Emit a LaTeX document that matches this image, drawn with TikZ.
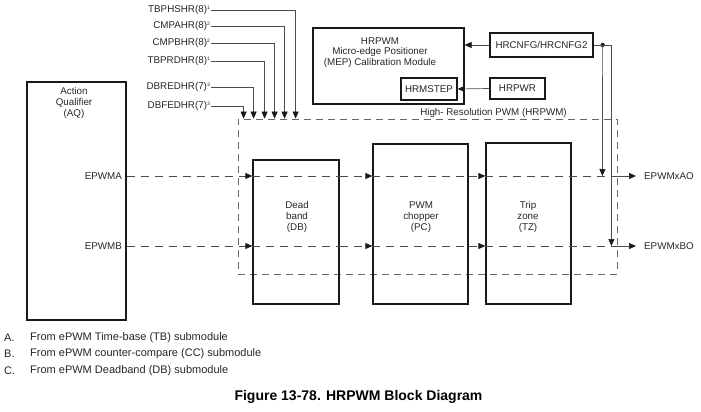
\documentclass[tikz,border=0pt]{standalone}
\usepackage{fontspec}
\setmainfont{Liberation Sans}
\usetikzlibrary{arrows.meta}
\newcommand\regnote[1]{\raisebox{3.5pt}{\fontsize{5}{5}\selectfont #1}}

\begin{document}
\begin{tikzpicture}[
        x=1pt, y=-1pt,
        >={Triangle[length=7pt, width=6pt, sep=0pt, color=black!90]},
        every node/.style={font=\fontsize{9.8}{11}\selectfont, inner sep=1pt, text=black!85},
        blok/.style={draw=black!90, line width=1.3pt, inner sep=0pt},
        hrbox/.style={draw=black!60, line width=0.8pt, dash pattern=on 7pt off 5pt, inner sep=0pt},
        sig/.style={draw=black!70, line width=0.8pt, dash pattern=on 8pt off 6pt},
        wire/.style={draw=black!70, line width=0.7pt},
        note/.style={font=\fontsize{11}{13}\selectfont, anchor=west}
    ]
        \useasboundingbox (0,0) rectangle (701,412);

        % Các khối chính
        \node[blok, minimum width=99pt, minimum height=238pt] (AQ) at (76.5,201) {};
        \node[align=center] (aqtxt) at (74,103) {Action\\Qualifier\\(AQ)};
        \node[hrbox, minimum width=379pt, minimum height=155pt] (HR) at (427.5,196.5) {};
        \node (hrtxt) at (493.5,113) {High- Resolution PWM (HRPWM)};
        \node[blok, minimum width=86pt, minimum height=144pt] (DB) at (296,232) {};
        \node[align=center] (dbtxt) at (297,217) {Dead\\band\\(DB)};
        \node[blok, minimum width=95pt, minimum height=160pt] (PC) at (420.5,224) {};
        \node[align=center] (pctxt) at (421,217) {PWM\\chopper\\(PC)};
        \node[blok, minimum width=85pt, minimum height=161pt] (TZ) at (528.5,223.5) {};
        \node[align=center] (tztxt) at (528,217) {Trip\\zone\\(TZ)};

        % Khối MEP và thanh ghi
        \node[blok, minimum width=151pt, minimum height=76pt] (MEP) at (388.5,66) {};
        \node[align=center, font=\fontsize{9.8}{10.5}\selectfont] (meptxt) at (380,52.5) {HRPWM\\Micro-edge Positioner\\(MEP) Calibration Module};
        \node[blok, minimum width=56pt, minimum height=22pt] (HRMSTEP) at (429,89) {HRMSTEP};
        \node[blok, minimum width=103pt, minimum height=24pt] (HRCNFG) at (541.5,45) {HRCNFG/HRCNFG2};
        \node[blok, minimum width=55pt, minimum height=21pt] (HRPWR) at (517.5,88.5) {HRPWR};
        \draw[wire, ->] (HRCNFG.west) -- (MEP.east |- HRCNFG);
        \draw[wire, ->] (HRPWR.west) -- (HRMSTEP.east);

        % Tín hiệu vào / ra
        \node[anchor=east] (epwma) at (123,176) {EPWMA};
        \node[anchor=east] (epwmb) at (123,246) {EPWMB};
        \node[anchor=west] (xao) at (643,176) {EPWMxAO};
        \node[anchor=west] (xbo) at (643,246) {EPWMxBO};

        \draw[sig, ->] (AQ.east |- epwma) -- (DB.west |- epwma);
        \draw[sig] (DB.west |- epwma) -- (DB.east |- epwma);
        \draw[sig, ->] (DB.east |- epwma) -- (PC.west |- epwma);
        \draw[sig] (PC.west |- epwma) -- (PC.east |- epwma);
        \draw[sig, ->] (PC.east |- epwma) -- (TZ.west |- epwma);
        \draw[sig] (TZ.west |- epwma) -- (HR.east |- epwma);
        \draw[wire, ->] (HR.east |- epwma) -- ([xshift=-7pt]xao.west);

        \draw[sig, ->] (AQ.east |- epwmb) -- (DB.west |- epwmb);
        \draw[sig] (DB.west |- epwmb) -- (DB.east |- epwmb);
        \draw[sig, ->] (DB.east |- epwmb) -- (PC.west |- epwmb);
        \draw[sig] (PC.west |- epwmb) -- (PC.east |- epwmb);
        \draw[sig, ->] (PC.east |- epwmb) -- (TZ.west |- epwmb);
        \draw[sig] (TZ.west |- epwmb) -- (HR.east |- epwmb);
        \draw[wire, ->] (HR.east |- epwmb) -- ([xshift=-7pt]xbo.west);

        % HRCNFG xuống hai ngõ ra
        \coordinate (dot) at ([xshift=9pt]HRCNFG.east);
        \fill[black!90] (dot) circle (2.2pt);
        \draw[wire, ->] (dot) -- ([xshift=-15pt]HR.east |- epwma);
        \draw[wire, ->] (HRCNFG.east) -| ([xshift=-6pt]HR.east |- epwmb);

        % Các thanh ghi HR
        \node[anchor=east] (tbphshr) at (211,10) {TBPHSHR(8)\regnote{1}};
        \node[anchor=east] (cmpahr) at (211,26) {CMPAHR(8)\regnote{2}};
        \node[anchor=east] (cmpbhr) at (211,43) {CMPBHR(8)\regnote{2}};
        \node[anchor=east] (tbprdhr) at (211,61) {TBPRDHR(8)\regnote{1}};
        \node[anchor=east] (dbredhr) at (211,87) {DBREDHR(7)\regnote{3}};
        \node[anchor=east] (dbfedhr) at (211,106) {DBFEDHR(7)\regnote{3}};
        \draw[wire, ->] (tbphshr.east) -| ([xshift=58pt]HR.north west);
        \draw[wire, ->] (cmpahr.east) -| ([xshift=47pt]HR.north west);
        \draw[wire, ->] (cmpbhr.east) -| ([xshift=37pt]HR.north west);
        \draw[wire, ->] (tbprdhr.east) -| ([xshift=27pt]HR.north west);
        \draw[wire, ->] (dbredhr.east) -| ([xshift=16pt]HR.north west);
        \draw[wire, ->] (dbfedhr.east) -| ([xshift=6pt]HR.north west);

        % Chú thích
        \node[note] (fa) at (3,338) {A.};
        \node[note] (ta) at (29,338) {From ePWM Time-base (TB) submodule};
        \node[note] (fb) at (3,354) {B.};
        \node[note] (tb) at (29,354) {From ePWM counter-compare (CC) submodule};
        \node[note] (fc) at (3,371) {C.};
        \node[note] (tc) at (29,371) {From ePWM Deadband (DB) submodule};
        \node[font=\bfseries\fontsize{14}{16}\selectfont, text=black] (cap) at (358.5,397) {Figure 13-78. HRPWM Block Diagram};
    \end{tikzpicture}
\end{document}
